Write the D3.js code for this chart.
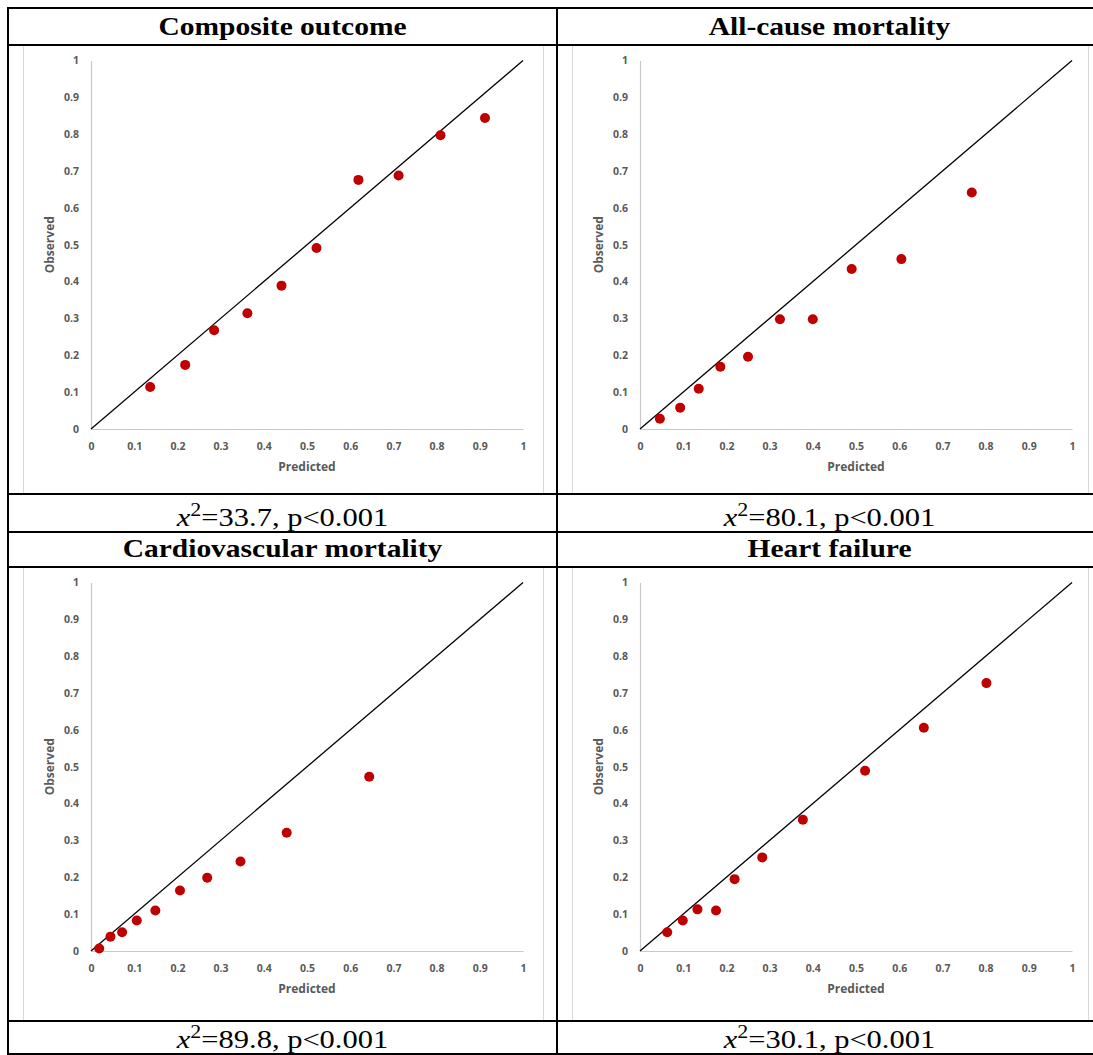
<!DOCTYPE html>
<html>
<head>
<meta charset="utf-8">
<script src="https://cdn.jsdelivr.net/npm/d3@7"></script>
<style>
body { margin: 0; background: #fff; }
</style>
</head>
<body>
<script>
// calibration plots, values

var titles = ['Composite outcome', 'All-cause mortality', 'Cardiovascular mortality', 'Heart failure'];
var chiValues = ['33.7', '80.1', '89.8', '30.1'];
var pLabel = 'p<0.001';

var compositePred = [0.137, 0.218, 0.285, 0.362, 0.441, 0.522, 0.619, 0.712, 0.809, 0.912];
var compositeObs  = [0.114, 0.174, 0.268, 0.314, 0.389, 0.491, 0.676, 0.688, 0.797, 0.844];

var allCausePred = [0.046, 0.093, 0.136, 0.186, 0.250, 0.324, 0.400, 0.490, 0.605, 0.768];
var allCauseObs  = [0.028, 0.058, 0.109, 0.169, 0.196, 0.298, 0.298, 0.434, 0.461, 0.642];

var cardioPred = [0.019, 0.045, 0.072, 0.106, 0.149, 0.206, 0.269, 0.346, 0.453, 0.644];
var cardioObs  = [0.007, 0.039, 0.051, 0.083, 0.110, 0.164, 0.199, 0.243, 0.321, 0.473];

var heartPred = [0.063, 0.099, 0.133, 0.176, 0.219, 0.283, 0.377, 0.521, 0.657, 0.802];
var heartObs  = [0.051, 0.083, 0.113, 0.110, 0.195, 0.254, 0.356, 0.489, 0.606, 0.727];

var tickValues = [0, 0.1, 0.2, 0.3, 0.4, 0.5, 0.6, 0.7, 0.8, 0.9, 1];
var tickLabels = ['0', '0.1', '0.2', '0.3', '0.4', '0.5', '0.6', '0.7', '0.8', '0.9', '1'];

var predicted = [compositePred, allCausePred, cardioPred, heartPred];
var observed  = [compositeObs, allCauseObs, cardioObs, heartObs];

var W = 1093, H = 1055;
var svg = d3.select('body').append('svg')
    .attr('width', W)
    .attr('height', H);

// table grid
var cols = [8, 557, 1102];
var blocks = [
    {head: [8, 45], chart: [45, 494], cap: [494, 532]},
    {head: [532, 567], chart: [567, 1021], cap: [1021, 1054]}
];

var fmt = function(d) { return tickLabels[tickValues.indexOf(d)]; };

for (let i = 0; i < 4; i++)
{
    let c = i % 2, r = Math.floor(i / 2);
    let x0 = cols[c], x1 = cols[c + 1];
    let b = blocks[r];
    let cx = (x0 + x1) / 2;

    // header
    svg.append('text')
        .attr('transform', 'translate(' + cx + ',' + (b.head[1] - 10) + ') scale(1.18,1)')
        .attr('text-anchor', 'middle')
        .style('font-family', '"Liberation Serif", "Times New Roman", serif')
        .style('font-weight', 'bold')
        .style('font-size', '25px')
        .text(titles[i]);

    // chart area frame
    svg.append('rect')
        .attr('x', x0 + 15.5)
        .attr('y', b.chart[0])
        .attr('width', x1 - x0 - 29)
        .attr('height', b.chart[1] - b.chart[0])
        .style('fill', '#fff')
        .style('stroke', '#d9d9d9')
        .style('stroke-width', 1);

    let plotLeft = x0 + 83, plotTop = b.chart[0] + 15.5;
    let pw = 432, ph = 368.5;
    let x = d3.scaleLinear().domain([0, 1]).range([plotLeft, plotLeft + pw]);
    let y = d3.scaleLinear().domain([0, 1]).range([plotTop + ph, plotTop]);

    let gx = svg.append('g')
        .attr('transform', 'translate(0,' + y(0) + ')')
        .call(d3.axisBottom(x).tickValues(tickValues).tickFormat(fmt).tickSize(0).tickSizeOuter(0).tickPadding(14));
    let gy = svg.append('g')
        .attr('transform', 'translate(' + x(0) + ',0)')
        .call(d3.axisLeft(y).tickValues(tickValues).tickFormat(fmt).tickSize(0).tickSizeOuter(0).tickPadding(12));

    [gx, gy].forEach(function(g) {
        g.select('.domain').style('stroke', '#c9c9c9').style('stroke-width', 1.2);
        g.selectAll('text')
            .style('font-family', '"Open Sans", sans-serif')
            .style('font-weight', 'bold')
            .style('font-size', '10.5px')
            .style('fill', '#595959');
    });

    svg.append('text')
        .attr('x', x(0.5))
        .attr('y', y(0) + 42)
        .attr('text-anchor', 'middle')
        .style('font-family', '"Open Sans", sans-serif')
        .style('font-weight', 'bold')
        .style('font-size', '12px')
        .style('fill', '#595959')
        .text('Predicted');

    svg.append('text')
        .attr('transform', 'translate(' + (x(0) - 37) + ',' + y(0.5) + ') rotate(-90)')
        .attr('text-anchor', 'middle')
        .style('font-family', '"Open Sans", sans-serif')
        .style('font-weight', 'bold')
        .style('font-size', '12px')
        .style('fill', '#595959')
        .text('Observed');

    // reference diagonal
    svg.append('path')
        .datum([0, 1])
        .attr('d', d3.line().x(function(d) { return x(d); }).y(function(d) { return y(d); }))
        .style('stroke', '#000')
        .style('stroke-width', 1.3)
        .style('fill', 'none');

    // points
    let pts = predicted[i].map(function(p, k) { return [p, observed[i][k]]; });
    svg.append('g').selectAll('circle')
        .data(pts)
        .enter().append('circle')
        .attr('cx', function(d) { return x(d[0]); })
        .attr('cy', function(d) { return y(d[1]); })
        .attr('r', 5)
        .style('fill', '#c00000');

    // chi-square caption
    let cap = svg.append('text')
        .attr('transform', 'translate(' + cx + ',' + (b.cap[1] - 6) + ') scale(1.22,1)')
        .attr('text-anchor', 'middle')
        .style('font-family', '"Liberation Serif", "Times New Roman", serif')
        .style('font-size', '25px');
    cap.append('tspan').style('font-style', 'italic').text('x');
    cap.append('tspan').attr('dy', -10).style('font-size', '18px').text('2');
    cap.append('tspan').attr('dy', 10).text('=' + chiValues[i] + ', ' + pLabel);
}

// table lines drawn last, on top of the chart frames
var hLines = [8, 45, 494, 532, 567, 1021, 1054];
svg.append('g').selectAll('line.h')
    .data(hLines)
    .enter().append('line')
    .attr('x1', cols[0] - 1).attr('x2', cols[2] + 1)
    .attr('y1', function(d) { return d; }).attr('y2', function(d) { return d; })
    .style('stroke', '#000').style('stroke-width', 2);
svg.append('g').selectAll('line.v')
    .data(cols)
    .enter().append('line')
    .attr('x1', function(d) { return d; }).attr('x2', function(d) { return d; })
    .attr('y1', hLines[0] - 1).attr('y2', hLines[6] + 1)
    .style('stroke', '#000').style('stroke-width', 2);
</script>
</body>
</html>
